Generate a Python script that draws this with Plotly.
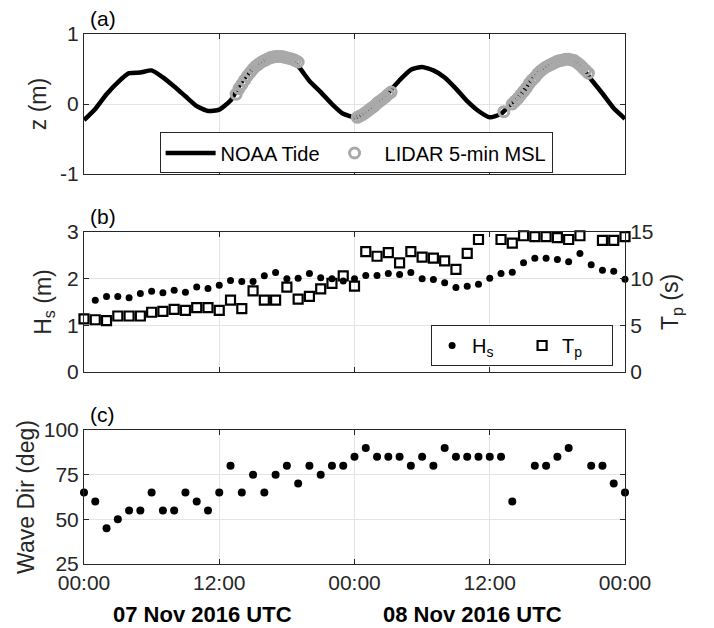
import pandas as pd
import plotly.graph_objects as go

base = pd.Timestamp("2016-11-07 00:00")

# ---- Panel (a): tide (hourly reading of NOAA curve) ----
tide_hours = list(range(0, 49))
tide_z = [-0.23, -0.07, 0.14, 0.31, 0.44, 0.45, 0.48, 0.38, 0.25, 0.11,
          -0.03, -0.10, -0.08, 0.05, 0.32, 0.50, 0.62, 0.68, 0.66, 0.54,
          0.33, 0.17, 0.00, -0.14, -0.19, -0.12, 0.04, 0.16, 0.34, 0.49,
          0.53, 0.48, 0.38, 0.22, 0.04, -0.10, -0.19, -0.14, 0.02, 0.18,
          0.42, 0.55, 0.61, 0.64, 0.55, 0.35, 0.15, -0.06, -0.21]

lidar_hours = [13.5, 13.75, 14.0, 14.25, 14.5, 14.75, 15.0, 15.25, 15.5, 15.75,
               16.0, 16.25, 16.5, 16.75, 17.0, 17.25, 17.5, 17.75, 18.0, 18.25,
               18.5, 18.75, 19.0,
               24.25, 24.5, 24.75, 25.0, 25.25, 25.5, 25.75, 26.0, 26.25, 26.5,
               26.75, 27.0, 27.25,
               37.25,
               38.0, 38.25, 38.5, 38.75, 39.0, 39.25, 39.5, 39.75, 40.0, 40.25,
               40.5, 40.75, 41.0, 41.25, 41.5, 41.75, 42.0, 42.25, 42.5, 42.75,
               43.0, 43.25, 43.5, 43.75, 44.0, 44.25, 44.5, 44.75]
lidar_z = [0.14, 0.22, 0.28, 0.34, 0.40, 0.45, 0.50, 0.54, 0.57, 0.60,
           0.62, 0.64, 0.66, 0.67, 0.68, 0.68, 0.68, 0.67, 0.66, 0.65,
           0.64, 0.62, 0.60,
           -0.19, -0.17, -0.15, -0.12, -0.09, -0.06, -0.03, 0.01, 0.04, 0.07,
           0.10, 0.14, 0.17,
           -0.11,
           0.00, 0.04, 0.08, 0.13, 0.18, 0.23, 0.29, 0.34, 0.38, 0.43,
           0.47, 0.50, 0.53, 0.55, 0.57, 0.59, 0.61, 0.62, 0.63, 0.64,
           0.64, 0.63, 0.62, 0.59, 0.56, 0.52, 0.48, 0.44]

# ---- Panels (b), (c): hourly wave parameters ----
wave_hours = list(range(0, 49))
hs = [None, 1.54, 1.62, 1.62, 1.59, 1.68, 1.73, 1.70, 1.75, 1.71,
      1.82, 1.79, 1.86, 1.96, 1.94, 1.94, 2.06, 2.13, 2.00, 2.01,
      2.11, 2.02, 2.00, 1.95, 2.00, 2.07, 2.07, 2.11, 2.09, 2.13,
      2.00, 1.98, 1.91, 1.81, 1.84, 1.88, 2.01, 2.11, 2.14, 2.34,
      2.44, 2.44, 2.41, 2.36, 2.54, 2.30, 2.18, 2.16, 1.99]
tp = [5.7, 5.6, 5.5, 6.0, 6.0, 6.0, 6.4, 6.5, 6.7, 6.6,
      6.9, 6.9, 6.6, 7.7, 6.8, 8.7, 7.7, 7.7, 9.1, 7.8,
      8.1, 8.9, 9.5, 10.3, 9.2, 12.9, 12.4, 12.8, 11.7, 12.9,
      12.3, 12.2, 11.9, 11.0, 12.7, 14.2, None, 14.2, 13.8, 14.6,
      14.5, 14.5, 14.4, 14.2, 14.6, None, 14.1, 14.1, 14.5]
wave_dir = [65, 60, 45, 50, 55, 55, 65, 55, 55, 65,
            60, 55, 65, 80, 65, 75, 65, 75, 80, 70,
            80, 75, 80, 80, 85, 90, 85, 85, 85, 80,
            85, 80, 90, 85, 85, 85, 85, 85, 60, None,
            80, 80, 85, 90, None, 80, 80, 70, 65]

z_ticks = [-1, 0, 1]
z_ticktext = ["-1", "0", "1"]
hs_ticks = [0, 1, 2, 3]
tp_ticks = [0, 5, 10, 15]
dir_ticks = [25, 50, 75, 100]
date_labels = ["07 Nov 2016 UTC", "08 Nov 2016 UTC"]


def to_time(hours):
    return [base + pd.Timedelta(hours=h) for h in hours]


FONT = "Liberation Sans, Arial, Helvetica, sans-serif"
TXT = "#262626"
GRID = "#e3e3e3"

fig = go.Figure()

fig.add_trace(go.Scatter(x=to_time(tide_hours), y=tide_z, mode="lines",
                         line=dict(color="black", width=4.5, shape="spline", smoothing=0.5),
                         name="NOAA Tide", xaxis="x", yaxis="y", legend="legend"))
fig.add_trace(go.Scatter(x=to_time(lidar_hours), y=lidar_z, mode="markers",
                         marker=dict(symbol="circle-open", size=10, color="#a9a9a9",
                                     line=dict(width=3, color="#a9a9a9")),
                         name="LIDAR 5-min MSL", xaxis="x", yaxis="y", legend="legend"))

fig.add_trace(go.Scatter(x=to_time(wave_hours), y=hs, mode="markers",
                         marker=dict(symbol="circle", size=7, color="black"),
                         name="H<sub>s</sub>", xaxis="x2", yaxis="y2", legend="legend2",
                         cliponaxis=False))
fig.add_trace(go.Scatter(x=to_time(wave_hours), y=tp, mode="markers",
                         marker=dict(symbol="square-open", size=9, color="black",
                                     line=dict(width=2.2, color="black")),
                         name="T<sub>p</sub>", xaxis="x2", yaxis="y3", legend="legend2",
                         cliponaxis=False))

fig.add_trace(go.Scatter(x=to_time(wave_hours), y=wave_dir, mode="markers",
                         marker=dict(symbol="circle", size=8, color="black"),
                         showlegend=False, xaxis="x3", yaxis="y4", cliponaxis=False))

xr = [base, base + pd.Timedelta(hours=48)]
xcommon = dict(type="date", range=xr, dtick=12 * 3600 * 1000, tick0=base,
               showgrid=True, gridcolor=GRID, gridwidth=1, showline=True,
               linecolor=TXT, linewidth=1, mirror="ticks", ticks="inside",
               ticklen=5, tickcolor=TXT, zeroline=False, automargin=False,
               tickfont=dict(family=FONT, size=21, color=TXT))
ycommon = dict(showgrid=True, gridcolor=GRID, gridwidth=1, showline=True,
               linecolor=TXT, linewidth=1, ticks="inside", ticklen=5,
               tickcolor=TXT, zeroline=False, automargin=False,
               tickfont=dict(family=FONT, size=21, color=TXT))

# The page body has an 8 px margin, so the figure is 8 px smaller and margins shifted.
fig.update_layout(
    width=706, height=620,
    margin=dict(l=76, r=89, t=26, b=64, autoexpand=False),
    paper_bgcolor="white", plot_bgcolor="white",
    font=dict(family=FONT, color=TXT),
    xaxis=dict(xcommon, anchor="y", showticklabels=False),
    xaxis2=dict(xcommon, anchor="y2", showticklabels=False),
    xaxis3=dict(xcommon, anchor="y4", tickformat="%H:%M"),
    yaxis=dict(ycommon, domain=[0.7358, 1.0], range=[-1, 1], tickvals=z_ticks,
               ticktext=z_ticktext, mirror="ticks", anchor="x",
               title=dict(text="z (m)", font=dict(family=FONT, size=23, color=TXT), standoff=7)),
    yaxis2=dict(ycommon, domain=[0.3623, 0.6264], range=[0, 3], tickvals=hs_ticks,
                mirror=False, anchor="x2",
                title=dict(text="H<sub>s</sub> (m)", font=dict(family=FONT, size=23, color=TXT), standoff=9)),
    yaxis3=dict(ycommon, overlaying="y2", side="right", range=[0, 15], tickvals=tp_ticks,
                showgrid=False, anchor="x2",
                title=dict(text="T<sub>p</sub> (s)", font=dict(family=FONT, size=23, color=TXT), standoff=9)),
    yaxis4=dict(ycommon, domain=[0.0, 0.2528], range=[25, 100], tickvals=dir_ticks,
                mirror="ticks", anchor="x3",
                title=dict(text="Wave Dir (deg)", font=dict(family=FONT, size=23, color=TXT), standoff=2)),
    legend=dict(x=0.503, y=0.7755, xanchor="center", yanchor="middle",
                orientation="h", bgcolor="white", bordercolor=TXT, borderwidth=1,
                font=dict(family=FONT, size=20, color="black"), itemwidth=50,
                entrywidth=0),
    legend2=dict(x=0.978, y=0.4123, xanchor="right", yanchor="middle",
                 orientation="h", bgcolor="white", bordercolor=TXT, borderwidth=1,
                 font=dict(family=FONT, size=20, color="black"), itemwidth=30,
                 entrywidth=45),
    showlegend=True,
)

# panel labels
for lab, ytop in [("(a)", 1.0), ("(b)", 0.6264), ("(c)", 0.2528)]:
    fig.add_annotation(text=lab, xref="paper", yref="paper", x=0.008, y=ytop,
                       xanchor="left", yanchor="bottom", yshift=2, showarrow=False,
                       font=dict(family=FONT, size=21, color="black"))

# date labels under the 12:00 ticks
for i, lab in enumerate(date_labels):
    fig.add_annotation(text="<b>" + lab + "</b>", xref="x3", yref="paper",
                       x=base + pd.Timedelta(hours=12 + 24 * i), y=0,
                       xanchor="center", yanchor="top", xshift=-17, yshift=-36,
                       showarrow=False, font=dict(family=FONT, size=22, color="black"))

fig.write_html("out.html")
